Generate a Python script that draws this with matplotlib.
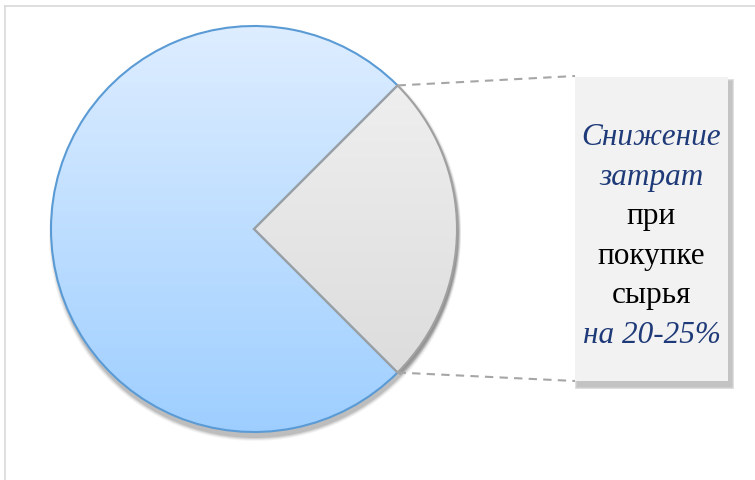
import numpy as np
import matplotlib
matplotlib.use('Agg')
import matplotlib.pyplot as plt
from matplotlib.patches import Rectangle, Circle, Wedge

# share of the whole: the rest vs the cost saving slice
shares = [75, 25]
slice_names = ['Прочее', 'Снижение затрат']
callout_lines = ['Снижение', 'затрат', 'при', 'покупке', 'сырья', 'на 20-25%']

W, H = 755, 481
fig = plt.figure(figsize=(W / 100, H / 100), dpi=100)
ax = fig.add_axes([0, 0, 1, 1])

cx, cy, r = 254, 230, 203
# y axis is flipped later, so angles run clockwise on screen
wedges, _ = ax.pie(shares, labels=None, center=(cx, cy), radius=r,
                   startangle=45, counterclock=True, frame=True,
                   wedgeprops=dict(linewidth=1.5, facecolor='none'))
ax.set_xlim(0, W)
ax.set_ylim(H, 0)
ax.set_aspect('equal')
ax.axis('off')

# light frame of the original document
ax.plot([5, W], [7, 7], color='#d9d9d9', lw=1.2)
ax.plot([5, 5], [7, H], color='#d9d9d9', lw=1.2)

blue, grey = wedges
blue.set_edgecolor('#5b9bd5')
grey.set_edgecolor('#a0a0a0')
blue.set_zorder(2)
grey.set_zorder(2.1)

# soft shadow under the pie
for k, a in enumerate([0.05, 0.08, 0.11, 0.15]):
    ax.add_patch(Circle((cx + 1, cy + 6), r + 3 - k, facecolor='#404040',
                        edgecolor='none', alpha=a, zorder=0.5))

# vertical gradients clipped to the wedges
t = np.linspace(0, 1, 256)[:, None, None]
c_top, c_bot = np.array([0.87, 0.93, 1.0]), np.array([0.62, 0.81, 1.0])
g_blue = (c_top + (c_bot - c_top) * t) * np.ones((1, 2, 1))
ext = [cx - r, cx + r, cy + r, cy - r]
im = ax.imshow(g_blue, extent=ext, aspect='auto', zorder=1)
im.set_clip_path(blue)

# small shadow along the grey slice arc
for k, a in enumerate([0.08, 0.12, 0.16]):
    ax.add_patch(Wedge((cx + 2, cy + 2), r + 2 - k, grey.theta1, grey.theta2,
                       facecolor='#404040', edgecolor='none', alpha=a, zorder=1.05))
g_top, g_bot = np.array([0.95, 0.95, 0.95]), np.array([0.85, 0.85, 0.85])
g_grey = (g_top + (g_bot - g_top) * t) * np.ones((1, 2, 1))
im2 = ax.imshow(g_grey, extent=ext, aspect='auto', zorder=1.1)
im2.set_clip_path(grey)
ax.set_xlim(0, W)
ax.set_ylim(H, 0)

# callout box with its shadow
bx0, by0, bx1, by1 = 575, 78, 728, 382
for k, a in enumerate([0.08, 0.12, 0.18]):
    ax.add_patch(Rectangle((bx0 + 2 - k, by0 + 4 - k), bx1 - bx0 + 2 + 2 * k, by1 - by0 + 2 + 2 * k,
                           facecolor='#505050', edgecolor='none', alpha=a, zorder=2.8))
ax.add_patch(Rectangle((bx0, by0), bx1 - bx0, by1 - by0, facecolor='#f2f2f2',
                       edgecolor='none', zorder=3))

# dashed connectors from the slice edges to the box
pts = []
for th in (grey.theta1, grey.theta2):
    a = np.deg2rad(th)
    pts.append((cx + r * np.cos(a), cy + r * np.sin(a)))
pts.sort(key=lambda p: p[1])
ax.plot([pts[0][0], bx0], [pts[0][1], by0 - 1], ls=(0, (4, 3)), color='#a6a6a6', lw=1.5, zorder=2.5)
ax.plot([pts[1][0], bx0], [pts[1][1], by1], ls=(0, (4, 3)), color='#a6a6a6', lw=1.5, zorder=2.5)

accent = {0, 1, 5}
y0, step = 138, 39.5
for i, line in enumerate(callout_lines):
    ax.text((bx0 + bx1) / 2, y0 + i * step, line, ha='center', va='center',
            fontsize=22.5, family='Liberation Serif',
            style='italic' if i in accent else 'normal',
            color='#1f3a78' if i in accent else 'black', zorder=4)

fig.savefig('out.png', dpi=100)
